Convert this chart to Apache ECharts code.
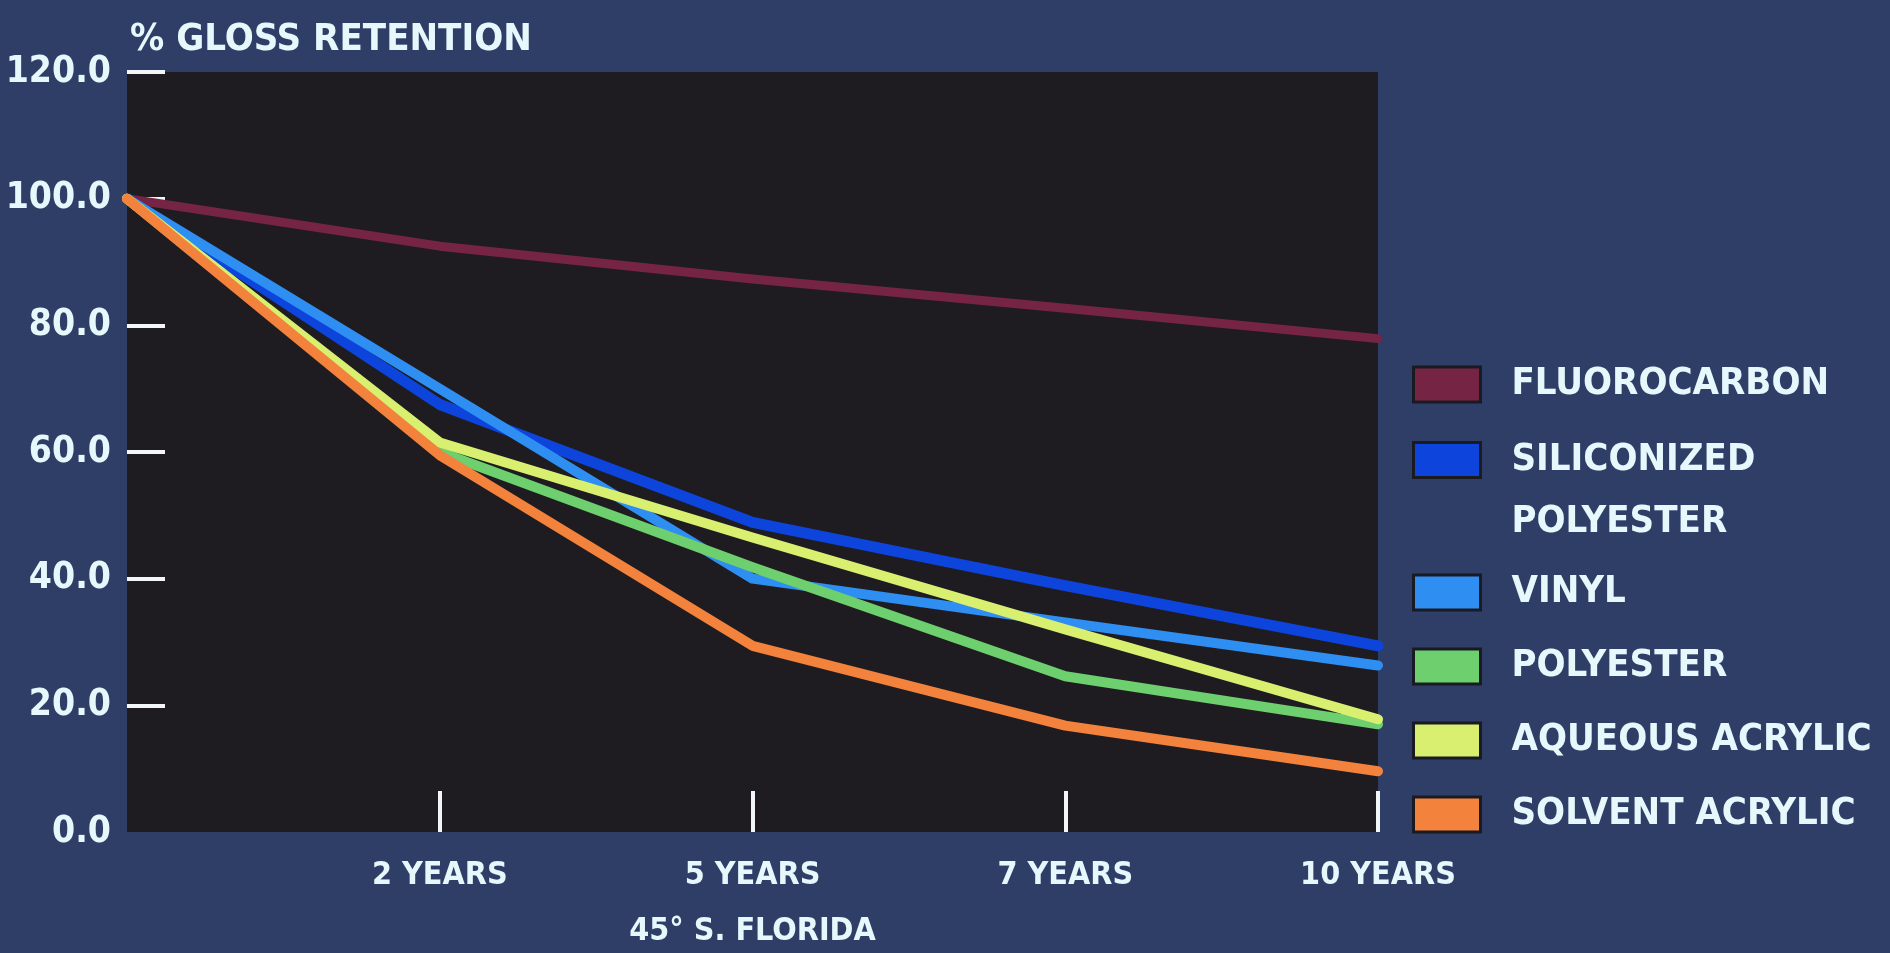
<!DOCTYPE html>
<html>
<head>
<meta charset="utf-8">
<title>% Gloss Retention</title>
<script src="https://cdn.jsdelivr.net/npm/echarts@6/dist/echarts.min.js"></script>
<style>
  html, body { margin: 0; padding: 0; background: #2e3e67; }
  #chart { width: 1890px; height: 953px; }
</style>
</head>
<body>
<div id="chart"></div>
<script>
// exposure time (45° S. Florida)
const categories = ['', '2 YEARS', '5 YEARS', '7 YEARS', '10 YEARS']
const yTicks = [0, 20, 40, 60, 80, 100, 120]

// % gloss retention per coating
const fluorocarbon = [100, 92.5, 87.3, 82.7, 77.9]
const siliconizedPolyester = [100, 67.5, 48.9, 38.9, 29.4]
const vinyl = [100, 70, 40, 33.1, 26.3]
const polyester = [100, 60, 41.8, 24.6, 17.0]
const aqueousAcrylic = [100, 61.5, 46.5, 32, 17.8]
const solventAcrylic = [100, 59.5, 29.4, 16.8, 9.6]

const FONT = '"DejaVu Sans Condensed", "Liberation Sans", sans-serif'
const TEXT = '#e6f8fc'

const chart = echarts.init(document.getElementById('chart'))

function line(name, data, color, width) {
  return {
    name: name,
    type: 'line',
    data: data,
    symbol: 'none',
    color: color,
    lineStyle: { color: color, width: width || 10, join: 'round', cap: 'round' },
    emphasis: { disabled: true },
    animation: false,
  }
}

const legendBase = {
  orient: 'vertical',
  left: 1412,
  padding: 0,
  icon: 'rect',
  itemWidth: 67,
  itemHeight: 35,
  itemGap: 19,
  selectedMode: false,
  itemStyle: { borderColor: '#1a1a22', borderWidth: 3 },
  textStyle: {
    color: TEXT,
    fontFamily: FONT,
    fontWeight: 'bold',
    fontSize: 38,
    lineHeight: 55,
    padding: [0, 0, 0, 26],
  },
}

const option = {
  backgroundColor: '#2e3e67',
  title: {
    text: '% GLOSS RETENTION',
    left: 130,
    top: 18,
    padding: 0,
    textStyle: { color: TEXT, fontFamily: FONT, fontWeight: 'bold', fontSize: 38, lineHeight: 44 },
  },
  legend: [
    Object.assign({}, legendBase, { top: 357, data: ['FLUOROCARBON'] }),
    Object.assign({}, legendBase, {
      top: 367,
      data: ['SILICONIZED POLYESTER'],
      textStyle: Object.assign({}, legendBase.textStyle, { lineHeight: 62 }),
      formatter: function () { return '\nSILICONIZED\nPOLYESTER' },
    }),
    Object.assign({}, legendBase, {
      top: 565,
      data: ['VINYL', 'POLYESTER', 'AQUEOUS ACRYLIC', 'SOLVENT ACRYLIC'],
    }),
  ],
  grid: {
    left: 127,
    right: 512,
    top: 72,
    bottom: 121,
    outerBoundsMode: 'none',
    show: true,
    backgroundColor: '#1e1c20',
    borderWidth: 0,
  },
  xAxis: {
    type: 'category',
    data: categories,
    boundaryGap: false,
    name: '45° S. FLORIDA',
    nameLocation: 'middle',
    nameGap: 84,
    nameTextStyle: { color: TEXT, fontFamily: FONT, fontWeight: 'bold', fontSize: 32 },
    axisLine: { show: false },
    axisTick: {
      show: true,
      inside: true,
      length: 41,
      interval: function (i) { return i > 0 },
      lineStyle: { color: '#f2f6f6', width: 4 },
    },
    axisLabel: {
      interval: 0,
      margin: 24,
      color: TEXT,
      fontFamily: FONT,
      fontWeight: 'bold',
      fontSize: 32,
      lineHeight: 40,
    },
    splitLine: { show: false },
  },
  yAxis: {
    type: 'value',
    min: 0,
    max: 120,
    interval: 20,
    axisLine: { show: false },
    axisTick: {
      show: true,
      inside: true,
      length: 38,
      customValues: yTicks.slice(1),
      lineStyle: { color: '#f2f6f6', width: 4 },
    },
    axisLabel: {
      margin: 16,
      color: TEXT,
      fontFamily: FONT,
      fontWeight: 'bold',
      fontSize: 37,
      formatter: function (v) { return v.toFixed(1) },
    },
    splitLine: { show: false },
  },
  series: [
    line('FLUOROCARBON', fluorocarbon, '#762444', 9),
    line('SILICONIZED POLYESTER', siliconizedPolyester, '#0c44dc', 11),
    line('VINYL', vinyl, '#2e8ef2', 10),
    line('POLYESTER', polyester, '#6dcf6e', 10),
    line('AQUEOUS ACRYLIC', aqueousAcrylic, '#d8ef70', 10),
    line('SOLVENT ACRYLIC', solventAcrylic, '#f2823c', 10),
  ],
}

chart.setOption(option)
</script>
</body>
</html>
